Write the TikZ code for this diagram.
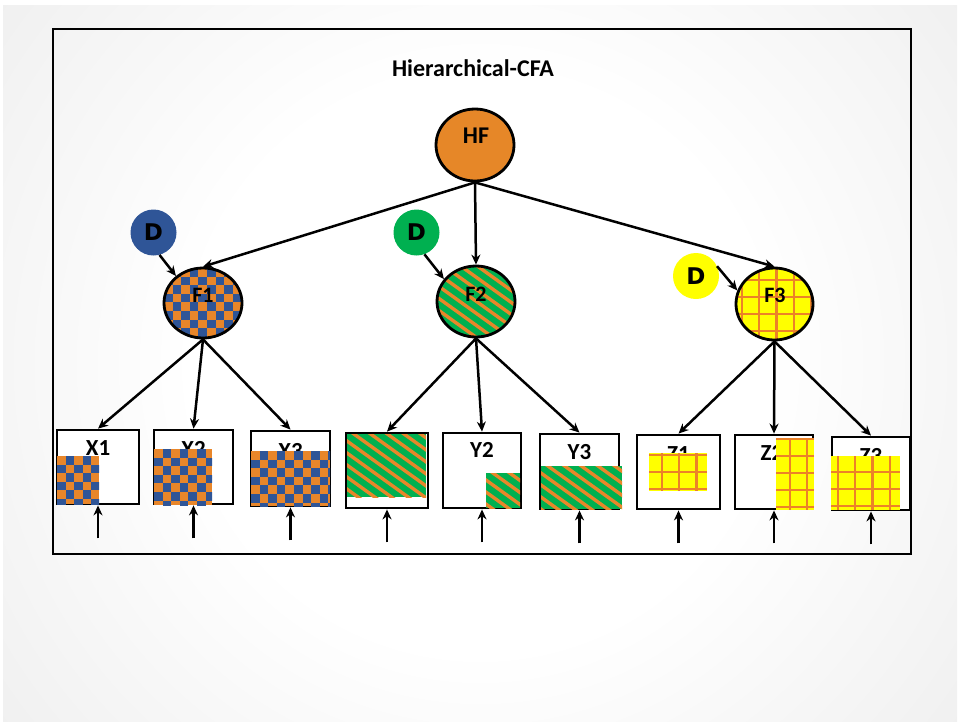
\documentclass[tikz,border=0pt]{standalone}
\usepackage{fontspec}
\setmainfont{Carlito}
\newfontfamily\dfont{DejaVu Sans}
\usetikzlibrary{shapes.geometric,arrows.meta}

\definecolor{hfOrange}{RGB}{230,135,40}
\definecolor{ckOrange}{RGB}{232,134,42}
\definecolor{ckBlue}{RGB}{47,85,151}
\definecolor{stGreen}{RGB}{0,176,80}
\definecolor{grYellow}{RGB}{255,255,0}
\definecolor{grLine}{RGB}{236,130,40}

\pgfdeclareradialshading{slideglow}{\pgfpoint{0bp}{0bp}}{color(0bp)=(white); color(12bp)=(white); color(50bp)=(black!17)}

% checkerboard filling the rectangle (#1,#2)-(#3,#4)
\newcommand\checkerfill[4]{%
  \begin{scope}
    \clip (#1,#2) rectangle (#3,#4);
    \fill[ckOrange] (#1,#2) rectangle (#3,#4);
    \foreach \ci in {0,...,10}{\foreach \cj in {0,...,10}{%
      \pgfmathtruncatemacro\ckodd{mod(\ci+\cj,2)}%
      \ifnum\ckodd=1 \fill[ckBlue] ({#1+\ci*8.6},{#2+\cj*8.6}) rectangle ++(8.6,8.6);\fi}}
  \end{scope}}

% downward diagonal stripes filling the rectangle (#1,#2)-(#3,#4)
\newcommand\stripefill[4]{%
  \begin{scope}
    \clip (#1,#2) rectangle (#3,#4);
    \fill[stGreen] (#1,#2) rectangle (#3,#4);
    \foreach \k in {-10,...,6}{%
      \draw[ckOrange, line width=3.4pt] ({#1+\k*16.7},{#2-5}) -- ++(200,144);}
  \end{scope}}

% yellow grid; #5 = first vertical line, #6 = first horizontal line
\newcommand\gridfill[6]{%
  \begin{scope}
    \clip (#1,#2) rectangle (#3,#4);
    \fill[grYellow] (#1,#2) rectangle (#3,#4);
    \foreach \k in {-1,...,5}{%
      \draw[grLine, line width=2.2pt] ({#5+\k*17.2},{#2}) -- ({#5+\k*17.2},{#4});
      \draw[grLine, line width=2.2pt] ({#1},{#6+\k*17}) -- ({#3},{#6+\k*17});}
  \end{scope}}

\tikzset{
  latent/.style={ellipse, draw=black, line width=2.8pt, inner sep=0pt},
  dnode/.style={circle, minimum size=46pt, inner sep=0pt, font=\dfont\bfseries\fontsize{23}{25}\selectfont},
  varbox/.style={rectangle, draw=black, fill=white, line width=2.8pt, inner sep=0pt},
  lbl/.style={font=\bfseries\fontsize{22}{24}\selectfont, inner sep=0pt},
  boxlbl/.style={font=\bfseries\fontsize{23}{25}\selectfont, inner sep=0pt},
  arr/.style={line width=2.5pt, -{Stealth[length=10pt,width=9pt]}},
}

\begin{document}
\begin{tikzpicture}[x=1pt,y=-1pt]
\useasboundingbox (0,0) rectangle (960,724);

% slide background
\fill[white] (0,0) rectangle (960,724);
\begin{scope}
  \clip (3,5) rectangle (957,721);
  \shade[shading=slideglow] (-120,-237) rectangle (1080,963);
\end{scope}

% frame and title
\draw[line width=2.8pt] (53,29) rectangle (911,554);
\node[font=\bfseries\fontsize{24}{28}\selectfont, inner sep=0pt] (title) at (473,68) {Hierarchical-CFA};

% patterned factor fills
\begin{scope}
  \clip (203,303) ellipse [x radius=39, y radius=35];
  \checkerfill{164}{268}{242}{338}
\end{scope}
\begin{scope}
  \clip (476,301.5) ellipse [x radius=39, y radius=35.5];
  \stripefill{437}{266}{515}{337}
\end{scope}
\begin{scope}
  \clip (774.5,304) ellipse [x radius=38.5, y radius=36];
  \gridfill{736}{268}{813}{340}{742}{280}
\end{scope}

% factors
\node[latent, fill=hfOrange, minimum width=78pt, minimum height=72pt] (HF) at (475,145) {};
\node[latent, minimum width=78pt, minimum height=70pt] (F1) at (203,303) {};
\node[latent, minimum width=78pt, minimum height=71pt] (F2) at (476,301.5) {};
\node[latent, minimum width=77pt, minimum height=72pt] (F3) at (774.5,304) {};
\node[lbl, font=\bfseries\fontsize{24}{26}\selectfont] (HFt) at (476,136) {HF};
\node[lbl] (F1t) at (203,295) {F1};
\node[lbl] (F2t) at (476,294) {F2};
\node[lbl] (F3t) at (775,295) {F3};

% disturbances
\node[dnode, fill=ckBlue] (D1) at (153.5,232.5) {D};
\node[dnode, fill=stGreen] (D2) at (416.5,232.5) {D};
\node[dnode, fill=grYellow] (D3) at (696,276) {D};

% indicators
\node[varbox, minimum width=82pt, minimum height=74pt] (X1) at (98,467) {};
\node[varbox, minimum width=79pt, minimum height=74pt] (X2) at (193.5,467) {};
\node[varbox, minimum width=79pt, minimum height=75pt] (X3) at (290.5,468.5) {};
\node[varbox, minimum width=82pt, minimum height=75pt] (Y1) at (387,470.5) {};
\node[varbox, minimum width=78pt, minimum height=75pt] (Y2) at (482,470.5) {};
\node[varbox, minimum width=79pt, minimum height=75pt] (Y3) at (579.5,471.5) {};
\node[varbox, minimum width=83pt, minimum height=74pt] (Z1) at (678.5,472) {};
\node[varbox, minimum width=78pt, minimum height=74pt] (Z2) at (774,472) {};
\node[varbox, minimum width=78pt, minimum height=73pt] (Z3) at (871,473.5) {};

\node[boxlbl] (X1t) at (98,448) {X1};
\node[boxlbl] (X2t) at (193.5,449) {X2};
\node[boxlbl] (X3t) at (290.5,451) {X3};
\node[boxlbl] (Y2t) at (482,450) {Y2};
\node[boxlbl] (Y3t) at (579.5,452) {Y3};
\node[boxlbl] (Z1t) at (678.5,454) {Z1};
\node[boxlbl] (Z2t) at (772,453) {Z2};
\node[boxlbl] (Z3t) at (871,456) {Z3};

% indicator fills
\checkerfill{57}{456}{99}{504}
\checkerfill{154}{449}{212}{505}
\checkerfill{251}{451}{330}{506}
\stripefill{347}{434}{426}{497}
\stripefill{486}{473}{520}{508}
\stripefill{541}{466}{622}{509}
\gridfill{649}{453}{707}{491}{662}{472}
\gridfill{776}{438}{814}{510}{790}{456}
\gridfill{831}{456}{900}{510}{838}{472}

% structural paths
\foreach \f in {F1,F2,F3}{\draw[arr] (HF.south) -- (\f.north);}
\draw[arr] (D1.-75) -- (F1.135);
\draw[arr] (D2.-70) -- (F2.145);
\draw[arr] (D3.25) -- (F3.160);
\foreach \f/\a/\b/\c in {F1/X1/X2/X3, F2/Y1/Y2/Y3, F3/Z1/Z2/Z3}{
  \draw[arr] (\f.south) -- (\a.north);
  \draw[arr] (\f.south) -- (\b.north);
  \draw[arr] (\f.south) -- (\c.north);
}

% measurement errors
\foreach \v in {X1,X2,X3,Y1,Y2,Y3,Z1,Z2,Z3}{
  \coordinate (in\v) at ([yshift=-33pt]\v.south);
  \draw[arr] (in\v) -- (\v.south);
}
\end{tikzpicture}
\end{document}
